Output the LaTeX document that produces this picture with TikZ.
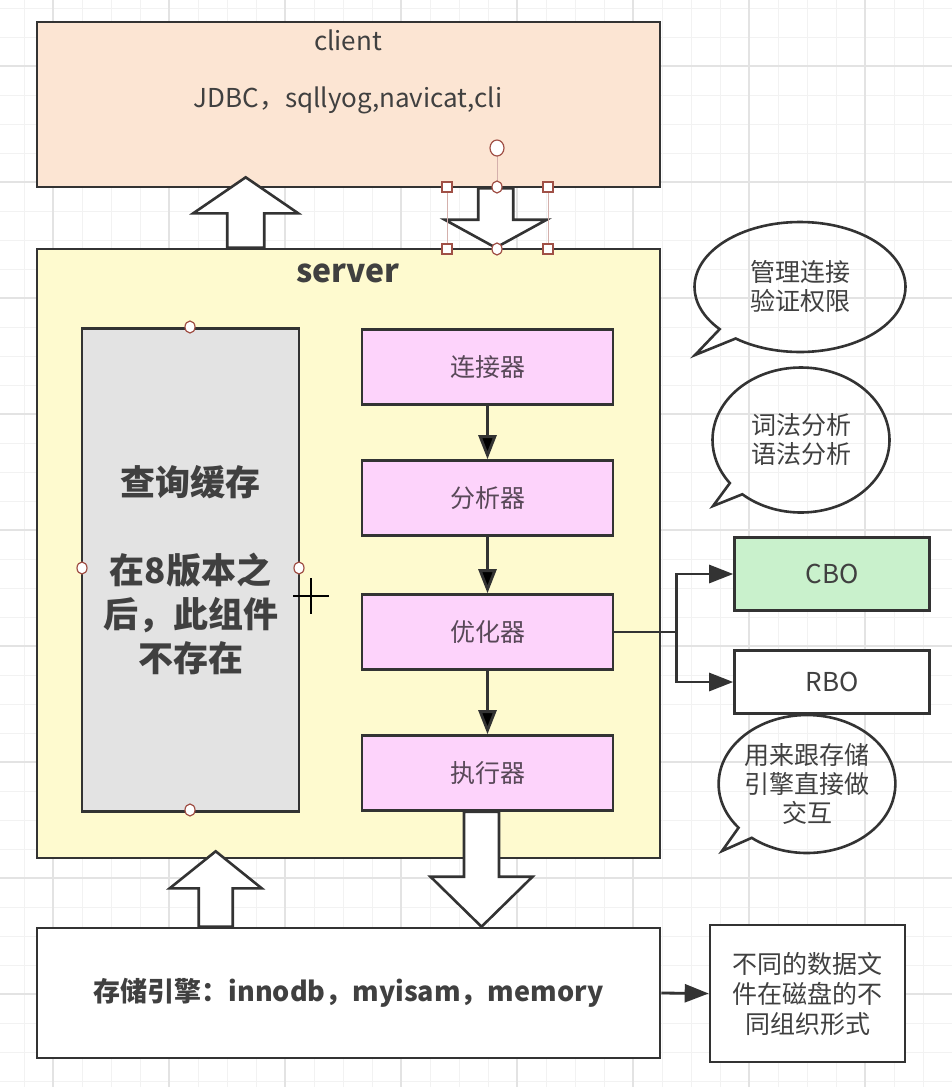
\documentclass[tikz,border=0pt]{standalone}
\usepackage{fontspec}
\setmainfont{Noto Sans CJK SC}
\usetikzlibrary{calc,arrows.meta,shapes.callouts}
\definecolor{linecol}{RGB}{51,51,51}
\definecolor{textcol}{RGB}{64,64,64}
\definecolor{stagetext}{RGB}{88,72,88}
\definecolor{clientfill}{RGB}{252,229,211}
\definecolor{serverfill}{RGB}{254,250,207}
\definecolor{cachefill}{RGB}{227,227,227}
\definecolor{pinkfill}{RGB}{253,211,251}
\definecolor{cbofill}{RGB}{201,241,204}
\definecolor{handlecol}{RGB}{160,80,70}
\newcommand{\fatarrow}[5]{%
  \draw[fatarrow] let \p1=#1, \p2=#2, \n1={ifthenelse(\y1>\y2,1,-1)} in
    (\x1-#3pt,\y1) -- (\x1-#3pt,\y2+\n1*#5pt) -- (\x1-#4pt,\y2+\n1*#5pt) -- (\x1,\y2)
    -- (\x1+#4pt,\y2+\n1*#5pt) -- (\x1+#3pt,\y2+\n1*#5pt) -- (\x1+#3pt,\y1) -- cycle;}
\begin{document}
\begin{tikzpicture}[x=1pt, y=-1pt,
  box/.style={draw=linecol, line width=2.6pt, inner sep=0pt, text=textcol, align=center},
  stage/.style={box, fill=pinkfill, text=stagetext, minimum width=251pt, minimum height=75pt, font=\fontsize{25}{30}\selectfont},
  plan/.style={box, minimum width=195pt, font=\fontsize{26}{30}\selectfont},
  bubble/.style={ellipse callout, draw=linecol, line width=2.6pt, inner sep=0pt, text=textcol, align=center, callout pointer arc=12, font=\fontsize{25}{29}\selectfont},
  title/.style={text=textcol, inner sep=0pt},
  flow/.style={draw=linecol, line width=2.8pt, -{Triangle[width=18pt, length=24pt]}},
  fatarrow/.style={draw=linecol, fill=white, line width=2.6pt, line join=miter},
  minorline/.style={draw=black!5, line width=1pt},
  majorline/.style={draw=black!11, line width=1.5pt},
  handle/.style={draw=handlecol, fill=white, line width=1.2pt},
  selline/.style={draw=handlecol!45, line width=1pt}]
\useasboundingbox (0,0) rectangle (952,1087);
\foreach \k in {0,...,32} \draw[minorline] (24+29*\k,0) -- (24+29*\k,1087);
\foreach \k in {0,...,37} \draw[minorline] (0,8+29*\k) -- (952,8+29*\k);
\foreach \k in {0,...,7} \draw[majorline] (53+116*\k,0) -- (53+116*\k,1087);
\foreach \k in {0,...,9} \draw[majorline] (0,66+116*\k) -- (952,66+116*\k);
\node[box, fill=clientfill, minimum width=623pt, minimum height=165pt] (client) at (348.5,104.5) {};
\node[title, font=\fontsize{26}{30}\selectfont] (clientname) at (348,40) {client};
\node[title, font=\fontsize{26}{30}\selectfont] (clienttools) at (348,100) {JDBC，sqllyog,navicat,cli};
\node[box, fill=serverfill, minimum width=623pt, minimum height=609pt] (server) at (348.5,553.5) {};
\node[title, font=\bfseries\fontsize{32}{36}\selectfont] (servername) at (348,273) {server};
\node[box, fill=cachefill, minimum width=217pt, minimum height=483pt, font=\bfseries\fontsize{35}{44}\selectfont] (cache) at (190.5,570) {查询缓存\\[44pt]在8版本之\\后，此组件\\不存在};
\node[stage] (conn) at (487.5,367) {连接器};
\node[stage] (ana) at (487.5,498) {分析器};
\node[stage] (opt) at (487.5,632) {优化器};
\node[stage] (exe) at (487.5,773) {执行器};
\node[plan, fill=cbofill, minimum height=73pt] (cbo) at (832,574) {CBO};
\node[plan, fill=white, minimum height=63pt] (rbo) at (832,682) {RBO};
\node[box, fill=white, minimum width=623pt, minimum height=130pt, font=\bfseries\fontsize{27}{30}\selectfont] (storage) at (348.5,993) {存储引擎：innodb，myisam，memory};
\node[box, fill=white, minimum width=195pt, minimum height=137pt, font=\fontsize{25}{30}\selectfont] (files) at (807.5,993.5) {不同的数据文\\件在磁盘的不\\同组织形式};
\node[bubble, minimum width=211pt, minimum height=130pt, callout absolute pointer={(695,355)}] (connnote) at (800,287) {管理连接\\验证权限};
\node[bubble, minimum width=177pt, minimum height=145pt, callout absolute pointer={(713,506)}] (ananote) at (801,440) {词法分析\\语法分析};
\node[bubble, minimum width=175pt, minimum height=138pt, callout absolute pointer={(722,851)}] (exenote) at (807,784) {用来跟存储\\引擎直接做\\交互};
\path[flow] (conn) edge (ana);
\path[flow] (ana) edge (opt);
\path[flow] (opt) edge (exe);
\draw[flow] (opt.east) -- ++(62,0) |- (cbo.west);
\draw[flow] (opt.east) -- ++(62,0) |- (rbo.west);
\draw[flow] (storage.east) -- (files.west);
\fatarrow{($(server.north west)+(210,0)$)}{($(client.south west)+(210,-11)$)}{18.5}{52.5}{36}
\fatarrow{($(client.south west)+(460,0)$)}{($(server.north west)+(460,0)$)}{17.5}{51}{28}
\fatarrow{($(storage.north west)+(180,0)$)}{($(server.south west)+(180,-8)$)}{17}{46}{37}
\fatarrow{($(exe.south)+(-6,0)$)}{($(storage.north west)+(444.5,0)$)}{17.5}{51}{50}
\draw[selline] (447,187) -- (447,249) (548,187) -- (548,249) (497,156) -- (497,187);
\foreach \hx/\hy in {447/187, 548/187, 447/249, 548/249}
  \draw[handle] (\hx-5,\hy-5) rectangle (\hx+5,\hy+5);
\foreach \hx/\hy in {497/187, 497/249, 190/327, 190/810, 82/568, 299/568}
  \draw[handle] (\hx,\hy) ellipse [x radius=5pt, y radius=6pt];
\draw[handle] (497,148) ellipse [x radius=7pt, y radius=8pt];
\draw[line width=2pt] (293,596) -- (329,596) (311,578) -- (311,614);
\end{tikzpicture}
\end{document}
